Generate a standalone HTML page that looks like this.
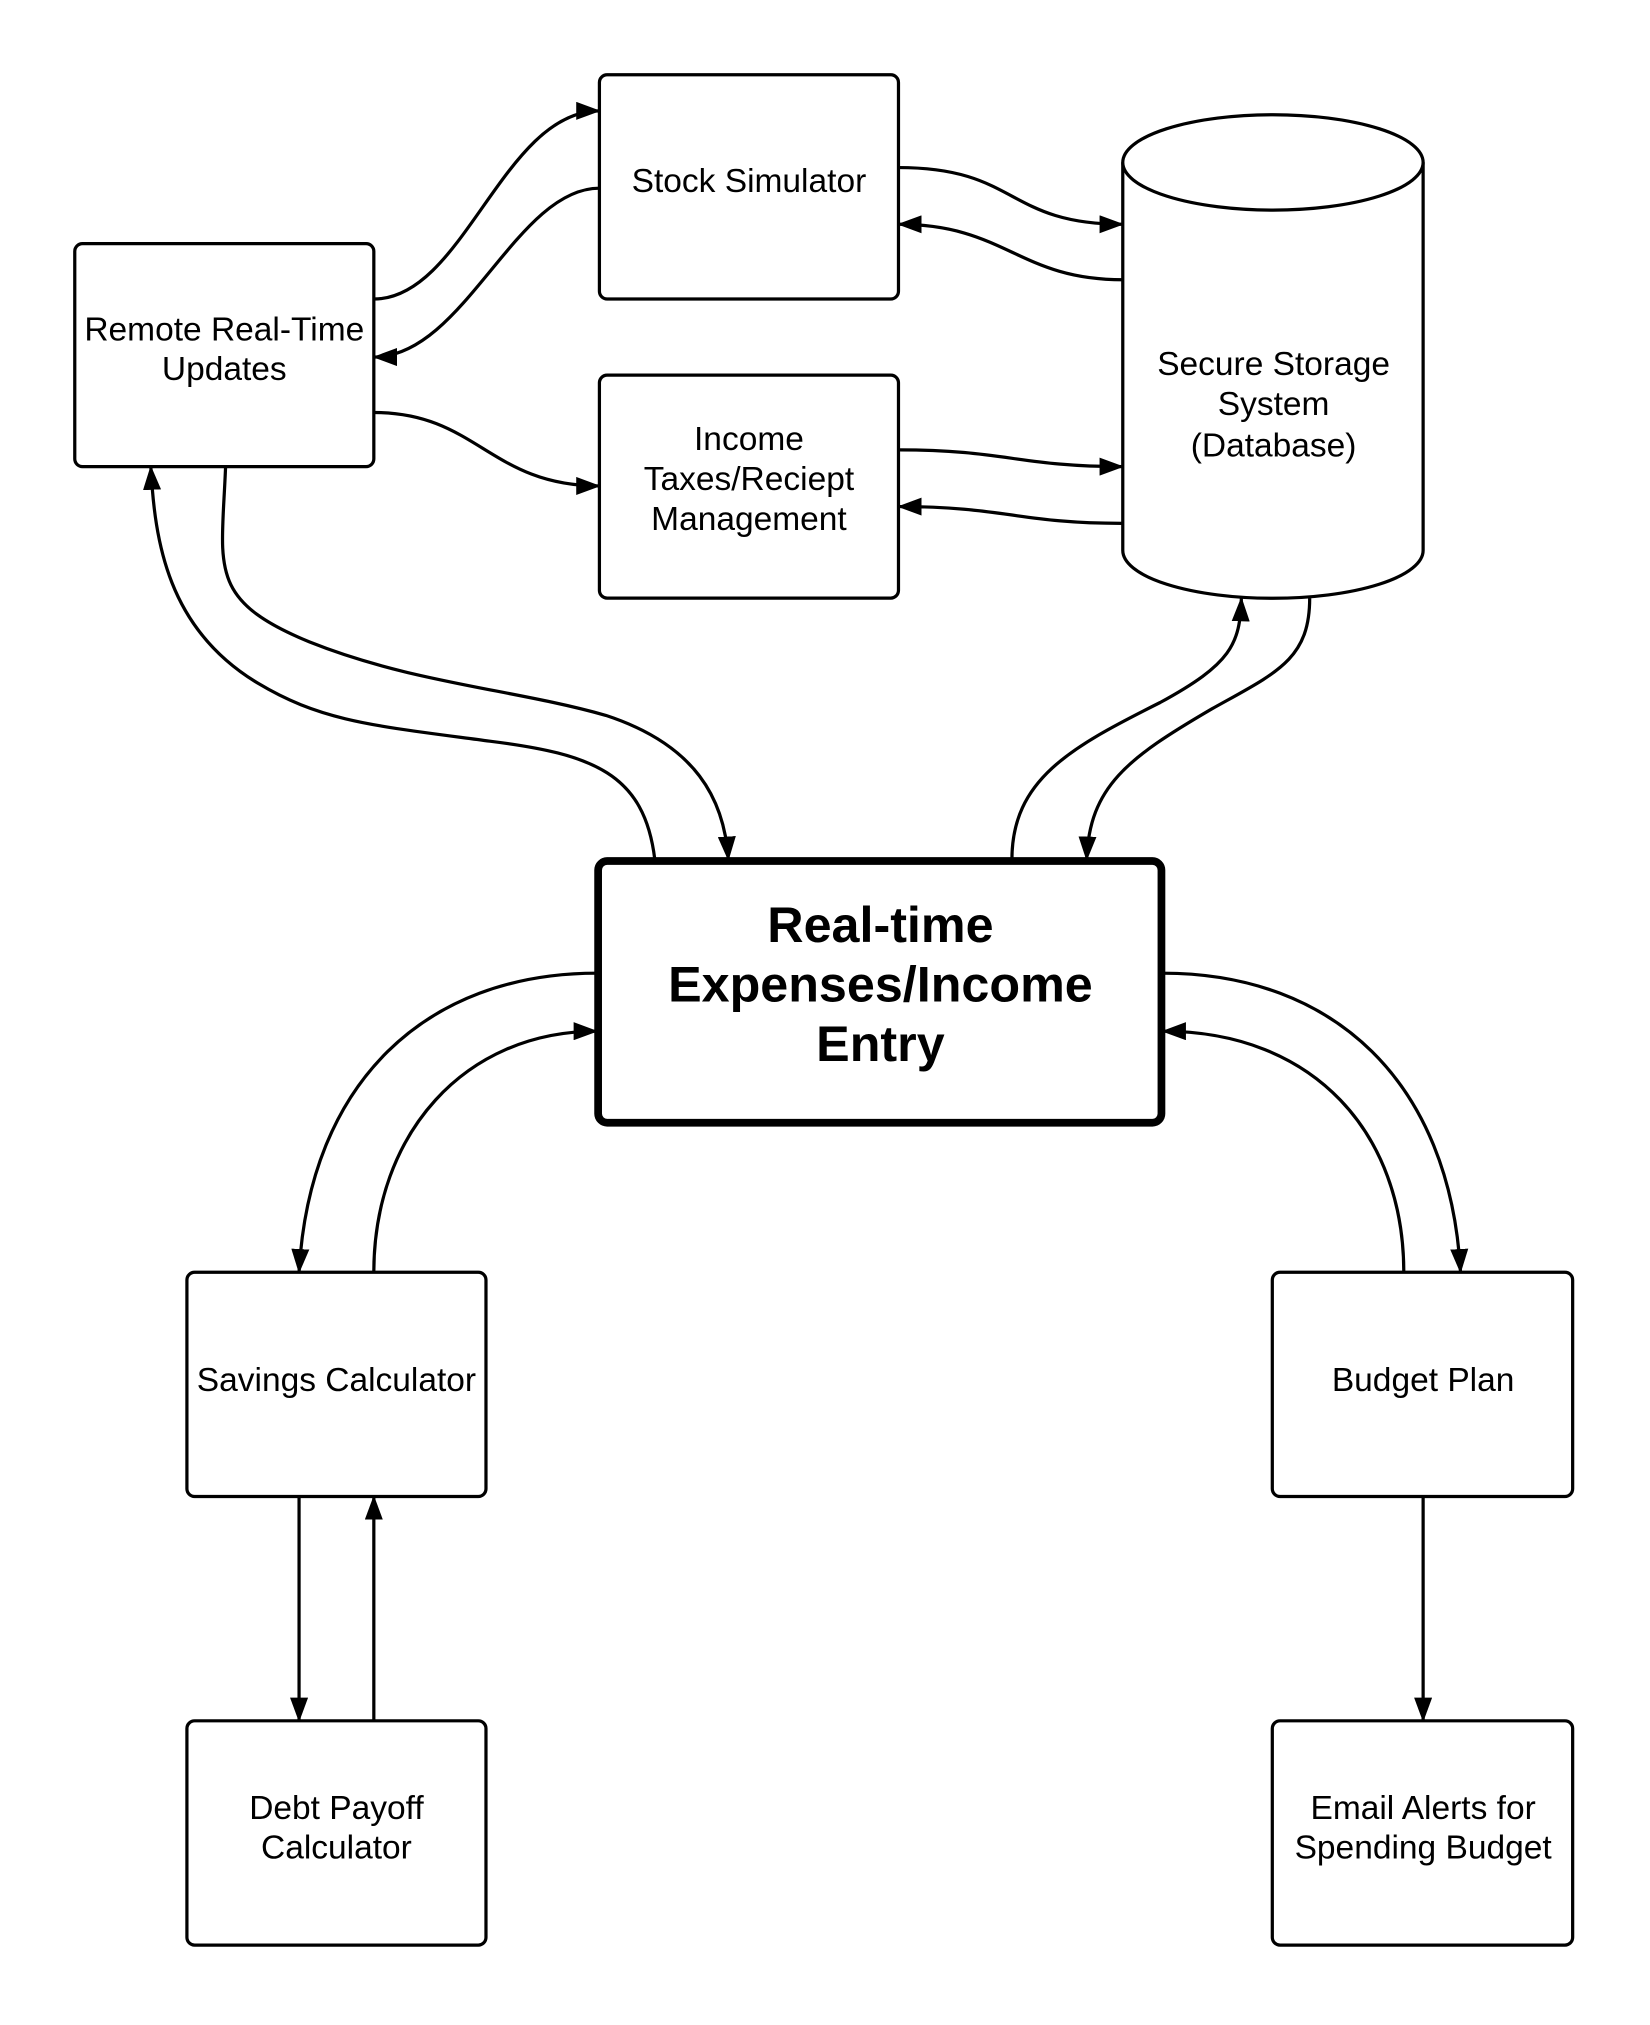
<!DOCTYPE html>
<html><head><style>html,body{margin:0;padding:0;background:#fff}svg{display:block}</style></head>
<body>
<svg width="1650" height="2025" viewBox="0 0 1280 1571" preserveAspectRatio="none" xmlns="http://www.w3.org/2000/svg">
<defs>
<marker id="a" markerWidth="20" markerHeight="14" refX="18" refY="7" orient="auto" markerUnits="userSpaceOnUse">
<path d="M0,0 L19,7 L0,14 Z" fill="#000"/></marker>
</defs>
<rect width="1280" height="1571" fill="#fff"/>
<g fill="#fff" stroke="#000" stroke-width="2.5">
<rect x="465" y="58" width="232" height="174" rx="6"/>
<rect x="58" y="189" width="232" height="173" rx="6"/>
<rect x="465" y="291" width="232" height="173" rx="6"/>
<path d="M871,126 L871,427 A116,37 0 0 0 1104,427 L1104,126"/>
<ellipse cx="987.5" cy="126" rx="116.5" ry="37"/>
<rect x="145" y="987" width="232" height="174" rx="6"/>
<rect x="987" y="987" width="233" height="174" rx="6"/>
<rect x="145" y="1335" width="232" height="174" rx="6"/>
<rect x="987" y="1335" width="233" height="174" rx="6"/>
<rect x="464" y="668" width="437" height="203" rx="7" stroke-width="6"/>
</g>
<g fill="none" stroke="#000" stroke-width="2.5" marker-end="url(#a)">
<path d="M290,232 C360,232 390,86 465,86"/>
<path d="M465,146 C400,146 360,277 290,277"/>
<path d="M697,130 C790,130 780,174 871,174"/>
<path d="M871,217 C790,217 780,174 697,174"/>
<path d="M290,320 C370,320 380,377 465,377"/>
<path d="M697,349 C780,349 790,362 871,362"/>
<path d="M871,406 C790,406 780,393 697,393"/>
<path d="M175,362 C172,440 160,465 240,498 C320,530 400,535 470,555 C540,578 562,620 565,667"/>
<path d="M508,667 C500,600 460,585 380,575 C290,563 250,560 200,530 C130,488 120,420 117,362"/>
<path d="M785,667 C785,605 830,580 900,545 C955,515 962,500 963,464"/>
<path d="M1016,464 C1016,512 990,522 940,550 C875,588 845,610 843,667"/>
<path d="M463,755 C330,755 240,840 232,987"/>
<path d="M290,987 C290,880 360,800 463,800"/>
<path d="M902,755 C1035,755 1125,840 1133,987"/>
<path d="M1089,987 C1089,880 1020,800 902,800"/>
<path d="M232,1161 L232,1335"/>
<path d="M290,1335 L290,1161"/>
<path d="M1104,1161 L1104,1335"/>
</g>
<g font-family="Liberation Sans, sans-serif" font-size="26" text-anchor="middle" fill="#000">
<text x="581" y="149">Stock Simulator</text>
<text x="174" y="264">Remote Real-Time</text>
<text x="174" y="295">Updates</text>
<text x="581" y="349">Income</text>
<text x="581" y="380">Taxes/Reciept</text>
<text x="581" y="411">Management</text>
<text x="988" y="291">Secure Storage</text>
<text x="988" y="322">System</text>
<text x="988" y="354">(Database)</text>
<text x="261" y="1079">Savings Calculator</text>
<text x="1104" y="1079">Budget Plan</text>
<text x="261" y="1411">Debt Payoff</text>
<text x="261" y="1442">Calculator</text>
<text x="1104" y="1411">Email Alerts for</text>
<text x="1104" y="1442">Spending Budget</text>
<g font-weight="bold" font-size="39">
<text x="683" y="731">Real-time</text>
<text x="683" y="777">Expenses/Income</text>
<text x="683" y="823">Entry</text>
</g>
</g>
</svg>
</body></html>
